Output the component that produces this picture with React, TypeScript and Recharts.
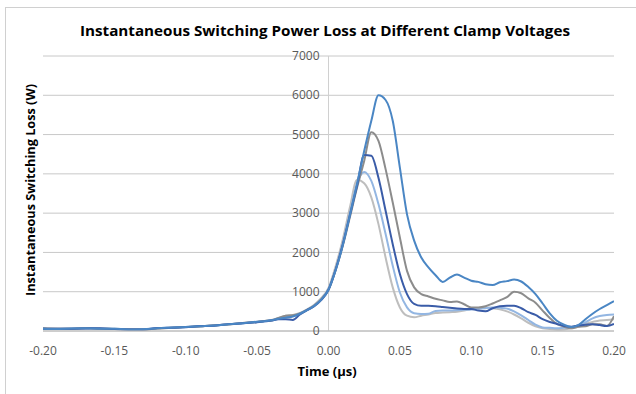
import React from 'react';
import { LineChart, Line, XAxis, YAxis, CartesianGrid, ReferenceLine, ReferenceDot } from 'recharts';

const times: number[] = [
  -0.2, -0.19, -0.18, -0.17, -0.16, -0.15, -0.14, -0.13, -0.12, -0.11, -0.1, -0.09, -0.08, -0.07, -0.06, -0.05,
  -0.045, -0.04, -0.035, -0.03, -0.025, -0.02, -0.015, -0.01, -0.005,
  0, 0.005, 0.01, 0.015, 0.02, 0.025, 0.03, 0.035, 0.04, 0.045, 0.05, 0.055, 0.06, 0.065, 0.07, 0.075, 0.08,
  0.085, 0.09, 0.095, 0.1, 0.105, 0.11, 0.115, 0.12, 0.125, 0.13, 0.135, 0.14, 0.145, 0.15, 0.155, 0.16,
  0.165, 0.17, 0.175, 0.18, 0.185, 0.19, 0.195, 0.2,
];

const seriesA: number[] = [
  60, 50, 65, 70, 60, 55, 40, 45, 70, 85, 100, 120, 140, 170, 200, 235,
  250, 275, 310, 340, 370, 440, 530, 640, 800,
  1050, 1550, 2180, 2950, 3750, 4580, 5350, 6000, 5880, 5350, 4160, 2970, 2300, 1870, 1620, 1420, 1250,
  1360, 1440, 1360, 1280, 1250, 1190, 1170, 1240, 1270, 1310, 1260, 1120, 940, 700, 450, 260,
  160, 100, 150, 300, 440, 560, 660, 760,
];
const seriesB: number[] = [
  70, 60, 55, 75, 60, 50, 45, 40, 65, 80, 105, 115, 145, 165, 205, 230,
  255, 270, 330, 390, 400, 450, 540, 650, 810,
  1050, 1550, 2170, 2900, 3650, 4330, 5060, 4840, 4120, 3270, 2380, 1530, 1110, 940, 880, 820, 780,
  740, 750, 680, 600, 600, 630, 700, 780, 860, 1000, 960, 830, 720, 520, 330, 180,
  110, 70, 110, 120, 170, 170, 130, 380,
];
const seriesC: number[] = [
  55, 60, 60, 65, 70, 50, 40, 40, 75, 80, 95, 125, 135, 175, 195, 225,
  245, 265, 300, 300, 280, 420, 530, 630, 790,
  1050, 1560, 2200, 2950, 3700, 4480, 4460, 3900, 3060, 2210, 1450, 940, 690, 640, 640, 630, 610,
  590, 570, 560, 560, 520, 500, 580, 630, 640, 640, 580, 480, 410, 300, 230, 180,
  130, 110, 140, 160, 175, 150, 130, 180,
];
const seriesD: number[] = [
  65, 55, 60, 70, 55, 60, 45, 45, 70, 90, 100, 120, 140, 170, 200, 230,
  250, 275, 320, 360, 380, 440, 540, 650, 810,
  1070, 1580, 2230, 3000, 3750, 4050, 3820, 3230, 2470, 1660, 980, 600, 450, 430, 440, 510, 520,
  520, 530, 540, 550, 570, 580, 600, 590, 570, 500, 400, 280, 160, 90, 80, 70,
  80, 90, 150, 220, 320, 380, 410, 420,
];
const seriesE: number[] = [
  60, 55, 60, 65, 60, 55, 40, 40, 65, 80, 100, 120, 145, 170, 205, 235,
  255, 280, 330, 390, 410, 460, 550, 670, 840,
  1100, 1650, 2330, 3150, 3850, 3760, 3400, 2720, 1870, 1110, 600, 390, 350, 390, 420, 460, 470,
  480, 490, 520, 560, 580, 600, 580, 550, 500, 420, 320, 210, 120, 70, 50, 30,
  40, 70, 110, 180, 230, 270, 280, 300,
];

const xTicks: number[] = [-0.2, -0.15, -0.1, -0.05, 0, 0.05, 0.1, 0.15, 0.2];
const yTicks: number[] = [0, 1000, 2000, 3000, 4000, 5000, 6000, 7000];

const title = 'Instantaneous Switching Power Loss at Different Clamp Voltages';
const yLabel = 'Instantaneous Switching Loss (W)';
const xLabel = 'Time (µs)';

const data = times.map((t, i) => ({
  t,
  a: seriesA[i],
  b: seriesB[i],
  c: seriesC[i],
  d: seriesD[i],
  e: seriesE[i],
}));

const FONT = '"Open Sans", "Liberation Sans", sans-serif';
const TICK_COLOR = '#595959';

const lines = [
  { key: 'e', color: '#BEBEBE' },
  { key: 'd', color: '#93B6E2' },
  { key: 'b', color: '#8C8C8C' },
  { key: 'c', color: '#3A5CA8' },
  { key: 'a', color: '#4A86C4' },
];

export default function App() {
  return (
    <div style={{ position: 'absolute', left: 0, top: 0, width: 636, height: 394, background: '#fff' }}>
      <div
        style={{
          position: 'absolute',
          left: 5,
          top: 7,
          width: 640,
          height: 400,
          borderLeft: '1px solid #d0d0d0',
          borderTop: '1px solid #d0d0d0',
        }}
      />
      <svg width={636} height={394} style={{ position: 'absolute', left: 0, top: 0 }}>
        <text
          x={325}
          y={36}
          textAnchor="middle"
          fontFamily={FONT}
          fontWeight="bold"
          fontSize={15}
          fill="#000"
          textLength={490}
          lengthAdjust="spacingAndGlyphs"
        >
          {title}
        </text>
        <text
          x={0}
          y={0}
          transform="translate(35,190) rotate(-90)"
          textAnchor="middle"
          fontFamily={FONT}
          fontWeight="bold"
          fontSize={13}
          fill="#000"
          textLength={212}
          lengthAdjust="spacingAndGlyphs"
        >
          {yLabel}
        </text>
        <text x={327} y={376} textAnchor="middle" fontFamily={FONT} fontWeight="bold" fontSize={13} fill="#000">
          {xLabel}
        </text>
      </svg>
      <div style={{ position: 'absolute', left: 0, top: 0 }}>
        <LineChart width={636} height={394} data={data} margin={{ top: 56, right: 22, bottom: 33, left: 43 }}>
          <CartesianGrid horizontal={true} vertical={false} stroke="#c8c8c8" />
          <XAxis
            dataKey="t"
            type="number"
            domain={[-0.2, 0.2]}
            ticks={xTicks}
            tickFormatter={(v: number) => v.toFixed(2)}
            axisLine={{ stroke: '#b8b8b8' }}
            tickLine={false}
            tickMargin={9}
            height={30}
            tick={{ fill: TICK_COLOR, fontSize: 12, fontFamily: FONT }}
            allowDataOverflow
          />
          <YAxis type="number" domain={[0, 7000]} ticks={yTicks} hide width={0} />
          <ReferenceLine x={0} stroke="#d0d0d0" strokeWidth={1} />
          {yTicks.map((v) => (
            <ReferenceDot
              key={v}
              x={0}
              y={v}
              r={0}
              isFront
              shape={(p: any) => (
                <text
                  x={p.cx - 9}
                  y={p.cy}
                  dy="0.35em"
                  textAnchor="end"
                  fontFamily={FONT}
                  fontSize={12}
                  fill={TICK_COLOR}
                >
                  {v}
                </text>
              )}
            />
          ))}
          {lines.map((l) => (
            <Line
              key={l.key}
              type="monotone"
              dataKey={l.key}
              stroke={l.color}
              strokeWidth={2}
              dot={false}
              isAnimationActive={false}
            />
          ))}
        </LineChart>
      </div>
    </div>
  );
}
